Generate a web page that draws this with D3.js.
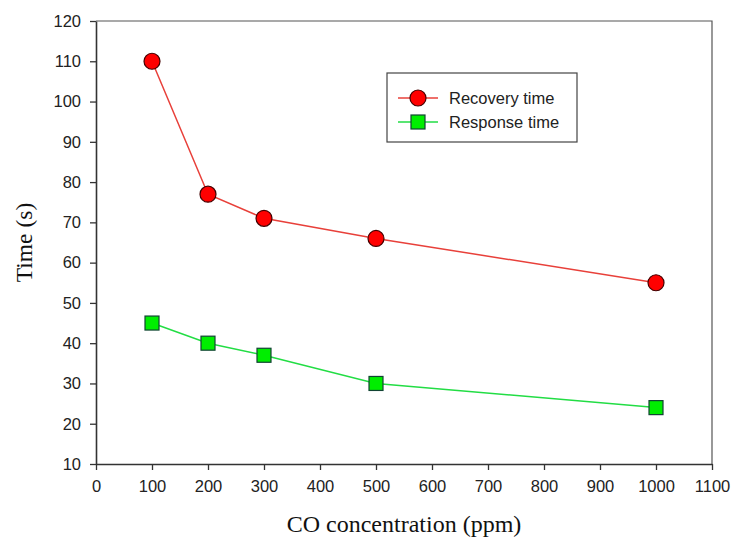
<!DOCTYPE html>
<html>
<head>
<meta charset="utf-8">
<script src="https://cdn.jsdelivr.net/npm/d3@7"></script>
<style>
  body { margin: 0; background: #fff; }
</style>
</head>
<body>
<script>
// chart data
var concentrations = [100, 200, 300, 500, 1000];
var recoveryTime = [110, 77, 71, 66, 55];
var responseTime = [45, 40, 37, 30, 24];
var xTicks = [0, 100, 200, 300, 400, 500, 600, 700, 800, 900, 1000, 1100];
var yTicks = [10, 20, 30, 40, 50, 60, 70, 80, 90, 100, 110, 120];

var width = 733, height = 538;
var margin = {left: 96, right: 21, top: 21, bottom: 74};

var svg = d3.select("body").append("svg")
  .attr("width", width)
  .attr("height", height);

var x = d3.scaleLinear().domain([0, 1100]).range([margin.left, width - margin.right]);
var y = d3.scaleLinear().domain([10, 120]).range([height - margin.bottom, margin.top]);

// frame: top and right edges
svg.append("path")
  .attr("d", "M" + x(0) + "," + y(120) + "H" + x(1100) + "V" + y(10))
  .attr("fill", "none")
  .attr("stroke", "#555")
  .attr("stroke-width", 1.2);

// axes
var xAxis = svg.append("g")
  .attr("transform", "translate(0," + y(10) + ")")
  .call(d3.axisBottom(x).tickValues(xTicks).tickFormat(d3.format("d"))
    .tickSize(6).tickPadding(10).tickSizeOuter(0));
var yAxis = svg.append("g")
  .attr("transform", "translate(" + x(0) + ",0)")
  .call(d3.axisLeft(y).tickValues(yTicks).tickFormat(d3.format("d"))
    .tickSize(6).tickPadding(9).tickSizeOuter(0));

[xAxis, yAxis].forEach(function(a) {
  a.select(".domain").attr("stroke", "#333").attr("stroke-width", 1.6);
  a.selectAll(".tick line").attr("stroke", "#333").attr("stroke-width", 1.3);
  a.selectAll(".tick text")
    .attr("fill", "#222")
    .style("font-family", "Liberation Sans, Arial, sans-serif")
    .style("font-size", "16.5px");
});

// axis titles
svg.append("text")
  .attr("x", x(550))
  .attr("y", 532)
  .attr("text-anchor", "middle")
  .style("font-family", "Liberation Serif, Times New Roman, serif")
  .style("font-size", "24px")
  .attr("fill", "#111")
  .text("CO concentration (ppm)");

svg.append("text")
  .attr("transform", "translate(32," + y(65) + ") rotate(-90)")
  .attr("text-anchor", "middle")
  .style("font-family", "Liberation Serif, Times New Roman, serif")
  .style("font-size", "23.5px")
  .attr("fill", "#111")
  .text("Time (s)");

var line = d3.line()
  .x(function(d) { return x(d[0]); })
  .y(function(d) { return y(d[1]); });

var recovery = concentrations.map(function(c, i) { return [c, recoveryTime[i]]; });
var response = concentrations.map(function(c, i) { return [c, responseTime[i]]; });

svg.append("path")
  .datum(recovery)
  .attr("d", line)
  .attr("fill", "none")
  .attr("stroke", "#e8403a")
  .attr("stroke-width", 1.5);

svg.append("path")
  .datum(response)
  .attr("d", line)
  .attr("fill", "none")
  .attr("stroke", "#22dd44")
  .attr("stroke-width", 1.5);

svg.append("g").selectAll("circle")
  .data(recovery)
  .enter().append("circle")
  .attr("cx", function(d) { return x(d[0]); })
  .attr("cy", function(d) { return y(d[1]); })
  .attr("r", 8)
  .attr("fill", "#ff0000")
  .attr("stroke", "#400")
  .attr("stroke-width", 1.2);

var sq = 14;
svg.append("g").selectAll("rect")
  .data(response)
  .enter().append("rect")
  .attr("x", function(d) { return x(d[0]) - sq / 2; })
  .attr("y", function(d) { return y(d[1]) - sq / 2; })
  .attr("width", sq)
  .attr("height", sq)
  .attr("fill", "#00ee00")
  .attr("stroke", "#143")
  .attr("stroke-width", 1.2);

// legend
var legend = svg.append("g").attr("transform", "translate(387,73)");
legend.append("rect")
  .attr("width", 190)
  .attr("height", 69)
  .attr("fill", "#fff")
  .attr("stroke", "#444")
  .attr("stroke-width", 1.2);

var items = [
  {name: "Recovery time", color: "#e8403a", shape: "circle", y: 25},
  {name: "Response time", color: "#22dd44", shape: "square", y: 49}
];
items.forEach(function(it) {
  legend.append("line")
    .attr("x1", 11).attr("x2", 51)
    .attr("y1", it.y).attr("y2", it.y)
    .attr("stroke", it.color).attr("stroke-width", 1.5);
  if (it.shape === "circle") {
    legend.append("circle")
      .attr("cx", 31).attr("cy", it.y).attr("r", 8)
      .attr("fill", "#ff0000").attr("stroke", "#400").attr("stroke-width", 1.2);
  } else {
    legend.append("rect")
      .attr("x", 31 - sq / 2).attr("y", it.y - sq / 2)
      .attr("width", sq).attr("height", sq)
      .attr("fill", "#00ee00").attr("stroke", "#143").attr("stroke-width", 1.2);
  }
  legend.append("text")
    .attr("x", 62)
    .attr("y", it.y + 6)
    .style("font-family", "Liberation Sans, Arial, sans-serif")
    .style("font-size", "16.5px")
    .attr("fill", "#222")
    .text(it.name);
});
</script>
</body>
</html>
